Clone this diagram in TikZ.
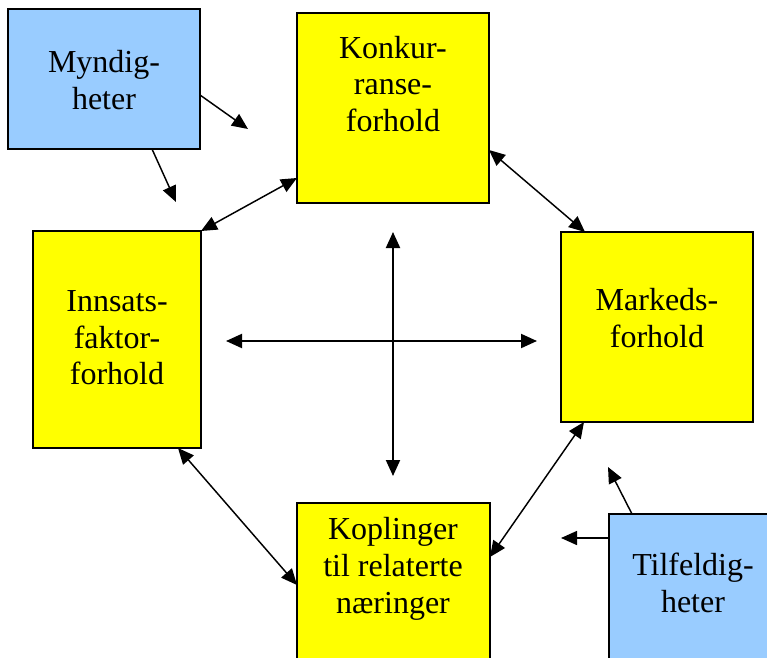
\documentclass[tikz,border=0pt]{standalone}
\usepackage{fontspec}
\setmainfont{Liberation Serif}
\usetikzlibrary{arrows.meta}
\definecolor{boxyellow}{HTML}{FFFF00}
\definecolor{boxblue}{HTML}{99CCFF}
\begin{document}
\begin{tikzpicture}[x=0.75pt,y=-0.75pt,
  boxbase/.style={draw=black, line width=1.5pt, inner sep=0pt, outer sep=0pt},
  factor/.style={boxbase, fill=boxyellow},
  influence/.style={boxbase, fill=boxblue},
  lbl/.style={font=\fontsize{24}{27.5}\selectfont, align=center, inner sep=0pt},
  link/.style={line width=1.1pt, -{Triangle[length=12pt,width=10.5pt]}},
  dlink/.style={line width=1.1pt, {Triangle[length=12pt,width=10.5pt]}-{Triangle[length=12pt,width=10.5pt]}},
  crosslink/.style={dlink, line width=1.5pt}]
\useasboundingbox (0,0) rectangle (767,657);
\clip (0,0) rectangle (767,657);

% boxes
\node[influence, minimum width=144pt, minimum height=105pt] (myn) at (104,79) {};
\node[factor, minimum width=144pt, minimum height=142.5pt] (konk) at (393,108) {};
\node[factor, minimum width=126pt, minimum height=162.75pt] (inn) at (117,339.5) {};
\node[factor, minimum width=144pt, minimum height=142.5pt] (mark) at (657,327) {};
\node[factor, minimum width=144.75pt, minimum height=140.25pt] (kopl) at (393.5,596.5) {};
\node[influence, minimum width=143.25pt, minimum height=139.5pt] (tilf) at (704.5,607) {};

% labels
\node[lbl] (mynT) at (104,80) {Myndig-\\heter};
\node[lbl] (konkT) at (393,84) {Konkur-\\ranse-\\forhold};
\node[lbl] (innT) at (117,338) {Innsats-\\faktor-\\forhold};
\node[lbl] (markT) at (657,318) {Markeds-\\forhold};
\node[lbl] (koplT) at (393,569) {Koplinger\\til relaterte\\næringer};
\node[lbl] (tilfT) at (693,583) {Tilfeldig-\\heter};

% free ends
\coordinate (m1) at (248,129);
\coordinate (m2) at (176,202);
\coordinate (t1) at (608,467);
\coordinate (t2) at (561,538);
\coordinate (hl) at (226,341);
\coordinate (hr) at (537,341);
\coordinate (vt) at (393,232);
\coordinate (vb) at (393,476);

% influences
\draw[link] (myn.east |- 0,95) -- (m1);
\draw[link] (myn.south -| 152,0) -- (m2);
\draw[link] (tilf.north -| 632,0) -- (t1);
\draw[link] (tilf.west |- 0,538) -- (t2);

% mutual links between the factors
\draw[dlink] (konk.west |- 0,178) -- (inn.north east);
\draw[dlink] (konk.east |- 0,150) -- (mark.north -| 585,0);
\draw[dlink] (inn.south -| 178,0) -- (kopl.west |- 0,585);
\draw[dlink] (mark.south -| 584,0) -- (kopl.east |- 0,557);

% central cross
\draw[crosslink] (hl) -- (hr);
\draw[crosslink] (vt) -- (vb);
\end{tikzpicture}
\end{document}
